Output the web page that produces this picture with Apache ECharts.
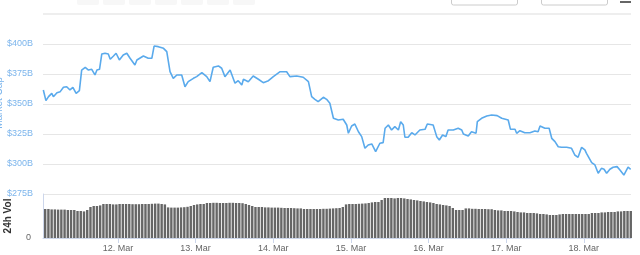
<!DOCTYPE html>
<html>
<head>
<meta charset="utf-8">
<script src="https://cdn.jsdelivr.net/npm/echarts@6/dist/echarts.min.js"></script>
<style>
html,body{margin:0;padding:0;background:#fff;}
#chart{width:640px;height:255px;}
</style>
</head>
<body>
<div id="chart"></div>
<script>
// Market cap series: hours after 2018-03-11 00:00 UTC, value in $B
const capHours = [1.3,2.1,2.9,3.9,4.4,5.5,6.5,7.5,8.5,9.5,10.4,11.4,12.4,13.1,14.2,15.2,16.2,17.2,17.8,18.6,19.3,20.3,21.3,21.9,22.9,23.7,24.7,25.9,27.0,28.0,29.5,30.1,32.1,33.6,34.7,35.4,36.7,38.3,39.3,40.3,41.3,42.4,43.9,44.9,45.9,47.5,48.5,50.1,51.6,52.6,53.6,55.2,56.2,57.2,58.8,60.3,61.3,62.4,62.9,64.4,65.9,67.5,69.0,70.6,72.1,74.2,76.2,77.2,79.3,81.3,82.9,83.9,84.9,85.9,87.5,88.5,89.5,90.6,92.1,93.6,94.7,95.2,96.2,97.2,98.3,99.3,100.3,101.3,102.4,103.6,104.9,105.9,106.5,107.5,108.5,109.5,110.6,111.3,112.1,112.6,113.6,114.7,115.7,117.2,118.8,119.5,121.3,122.4,123.2,124.2,125.2,125.9,127.5,129.0,130.1,130.6,132.1,133.1,134.5,134.9,136.2,137.8,139.3,141.0,142.4,144.4,145.1,146.5,147.0,148.0,149.5,151.1,152.6,153.6,154.2,155.7,157.0,157.8,158.8,159.8,160.8,162.4,163.9,164.9,165.9,167.0,168.0,168.5,170.1,171.1,172.1,173.1,173.9,174.7,175.7,176.7,177.9,178.8,180.0,181.3,182.1];
const capValues = [361.7,352.8,356.1,358.9,356.1,359.4,360.3,363.9,364.4,361.7,363.9,358.9,361.1,378.3,380.6,378.3,378.9,374.2,378.3,378.9,391.7,392.3,391.7,387.3,390.0,392.3,386.7,390.8,392.3,388.1,382.5,386.7,390.0,388.1,388.1,398.3,397.8,396.4,393.6,376.9,371.4,374.2,374.2,364.4,368.6,371.4,372.8,376.1,372.8,368.6,380.6,381.7,379.8,372.8,378.3,367.3,369.4,365.8,370.6,368.6,373.3,370.6,367.8,369.4,372.8,376.9,376.9,372.8,373.3,372.3,368.6,356.1,353.9,351.9,355.6,353.9,350.6,338.1,336.7,337.3,332.5,325.6,331.7,333.3,326.9,322.8,313.1,315.8,316.7,310.3,317.3,317.8,329.8,332.5,328.3,331.1,328.3,335.3,332.5,322.3,322.3,326.1,324.2,328.3,328.9,333.3,332.5,322.8,320.0,324.2,322.8,328.3,328.3,329.8,328.3,325.0,323.3,326.9,325.6,335.3,338.1,340.0,340.8,340.3,338.1,336.7,328.9,328.9,325.6,327.8,326.1,326.1,327.5,326.9,331.7,329.8,329.8,321.4,318.6,314.4,313.9,313.9,313.1,307.5,305.6,313.9,311.7,308.9,301.1,299.2,292.3,296.4,295.6,292.3,295.6,297.3,297.8,295.0,290.8,297.3,295.6];

// 24h volume, hourly bars starting at 01:30 on 11 Mar, value in $B
const volStartHour = 1.5;
const volValues = [14.5,14.5,14.3,14.3,14.2,14.2,14.2,14.0,14.0,14.0,
13.5,13.5,13.3,14.0,
15.5,16.0,16.0,16.3,
17.0,17.0,17.0,16.8,16.8,17.0,17.0,17.0,17.0,16.9,16.9,16.9,17.0,17.0,17.0,17.1,17.2,17.2,17.0,16.8,
15.3,15.2,15.2,15.2,15.3,15.4,
15.6,16.0,16.5,16.8,17.0,17.0,
17.5,17.5,17.6,17.6,17.5,17.5,17.5,17.6,17.6,17.5,17.5,17.4,
17.0,16.5,16.0,15.5,15.5,15.5,
15.3,15.3,15.2,15.2,15.2,15.1,15.0,15.0,15.0,14.9,14.8,14.8,
14.5,14.5,14.5,14.5,14.5,14.5,14.6,14.6,14.7,14.8,14.9,15.0,
15.5,16.8,
17.0,17.0,17.0,17.1,17.2,17.3,
17.5,17.8,18.0,18.0,
19.0,20.0,
20.0,20.0,19.8,20.0,20.0,19.8,19.5,19.3,
19.0,18.8,18.5,18.3,18.0,17.8,17.5,
17.0,16.8,16.5,16.3,16.0,
15.0,14.0,14.0,14.0,
14.8,14.8,14.6,14.6,14.5,14.5,14.5,14.4,14.4,
14.0,13.8,13.8,13.5,13.5,13.5,13.3,
13.0,12.8,12.8,12.5,12.5,12.5,12.3,12.0,12.0,
11.8,11.5,11.5,11.5,11.8,12.0,12.0,12.0,12.0,12.0,
12.0,12.0,12.0,12.0,12.5,12.5,12.5,12.8,12.8,
13.0,13.0,13.0,13.3,13.3,13.5,13.5,13.5];

const capTicks = [275, 300, 325, 350, 375, 400];
const monthNames = ['Jan','Feb','Mar','Apr','May','Jun','Jul','Aug','Sep','Oct','Nov','Dec'];

const base = Date.UTC(2018, 2, 11);
const H = 3600000;
const capData = capHours.map((h, i) => [base + h * H, capValues[i]]);
const volData = volValues.map((v, i) => [base + (volStartHour + i) * H, v]);
const xMin = base + 1.2 * H, xMax = base + 182.2 * H;

const chart = echarts.init(document.getElementById('chart'), null, {renderer: 'canvas'});
const axisBlue = '#ccd6eb';
chart.setOption({
  useUTC: true,
  animation: false,
  backgroundColor: '#ffffff',
  grid: [
    {left: 43, right: 9, top: 44, height: 150},
    {left: 43, right: 9, top: 194, height: 44}
  ],
  xAxis: [
    {type: 'time', gridIndex: 0, min: xMin, max: xMax,
     axisLine: {show: false}, axisTick: {show: false}, axisLabel: {show: false}, splitLine: {show: false}},
    {type: 'time', gridIndex: 1, min: xMin, max: xMax,
     minInterval: 24 * H, maxInterval: 24 * H, splitNumber: 7,
     axisLine: {show: true, lineStyle: {color: axisBlue, width: 1}},
     axisTick: {show: true, length: 5, lineStyle: {color: axisBlue}},
     axisLabel: {show: true, color: '#666666', fontSize: 9, fontFamily: 'Liberation Sans, Arial, sans-serif', margin: 6,
       showMinLabel: false, showMaxLabel: false,
       formatter: function (v) { const d = new Date(v); return d.getUTCDate() + '. ' + monthNames[d.getUTCMonth()]; }},
     splitLine: {show: false}}
  ],
  yAxis: [
    {type: 'value', gridIndex: 0, min: capTicks[0], max: capTicks[capTicks.length - 1], interval: 25,
     axisLine: {show: false}, axisTick: {show: false},
     axisLabel: {color: '#7cb5ec', fontSize: 9, fontFamily: 'Liberation Sans, Arial, sans-serif', margin: 10,
       padding: [0, 0, 8, 0], formatter: v => '$' + v + 'B'},
     splitLine: {show: true, lineStyle: {color: '#e6e6e6', width: 1}}},
    {type: 'value', gridIndex: 1, min: 0, max: 22, interval: 22,
     axisLine: {show: true, lineStyle: {color: axisBlue}}, axisTick: {show: false},
     axisLabel: {color: '#666666', fontSize: 9, fontFamily: 'Liberation Sans, Arial, sans-serif', margin: 12,
       padding: [0, 0, 8, 0], formatter: v => (v === 0 ? '0' : '')},
     splitLine: {show: false}}
  ],
  series: [
    {type: 'line', xAxisIndex: 0, yAxisIndex: 0, data: capData, showSymbol: false, smooth: false,
     lineStyle: {color: '#5aaaec', width: 1.6}, itemStyle: {color: '#5aaaec'}},
    {type: 'bar', xAxisIndex: 1, yAxisIndex: 1, data: volData, barWidth: 2.4,
     itemStyle: {color: '#666666'}}
  ],
  graphic: [
    {type: 'rect', shape: {x: 43, y: 13, width: 588, height: 2}, style: {fill: '#eeeeee'}, silent: true},
    {type: 'text', style: {x: 48, y: 2, text: 'Zoom', fill: '#999999', fontSize: 11, fontFamily: 'Liberation Sans, Arial', textVerticalAlign: 'bottom'}},
    {type: 'rect', shape: {x: 77, y: -6, width: 22, height: 11, r: 2}, style: {fill: '#f7f7f7'}},
    {type: 'rect', shape: {x: 103, y: -6, width: 22, height: 11, r: 2}, style: {fill: '#f7f7f7'}},
    {type: 'rect', shape: {x: 129, y: -6, width: 22, height: 11, r: 2}, style: {fill: '#f7f7f7'}},
    {type: 'rect', shape: {x: 155, y: -6, width: 22, height: 11, r: 2}, style: {fill: '#f7f7f7'}},
    {type: 'rect', shape: {x: 181, y: -6, width: 22, height: 11, r: 2}, style: {fill: '#f7f7f7'}},
    {type: 'rect', shape: {x: 207, y: -6, width: 22, height: 11, r: 2}, style: {fill: '#f7f7f7'}},
    {type: 'rect', shape: {x: 233, y: -6, width: 22, height: 11, r: 2}, style: {fill: '#f7f7f7'}},
    {type: 'rect', shape: {x: 451.5, y: -10, width: 66, height: 15, r: 2}, style: {fill: '#ffffff', stroke: '#cccccc', lineWidth: 1}},
    {type: 'rect', shape: {x: 541.5, y: -10, width: 66, height: 15, r: 2}, style: {fill: '#ffffff', stroke: '#cccccc', lineWidth: 1}},
    {type: 'rect', shape: {x: 620, y: 1, width: 11, height: 2}, style: {fill: '#666666'}},
    {type: 'text', x: -1, y: 103, rotation: Math.PI / 2,
     style: {text: 'Market Cap', fill: '#7cb5ec', fontSize: 10, fontFamily: 'Liberation Sans, Arial', align: 'center', verticalAlign: 'middle'}},
    {type: 'text', x: 8, y: 216, rotation: Math.PI / 2,
     style: {text: '24h Vol', fill: '#333333', fontSize: 10, fontWeight: 'bold', fontFamily: 'Liberation Sans, Arial', align: 'center', verticalAlign: 'middle'}}
  ]
});
</script>
</body>
</html>
